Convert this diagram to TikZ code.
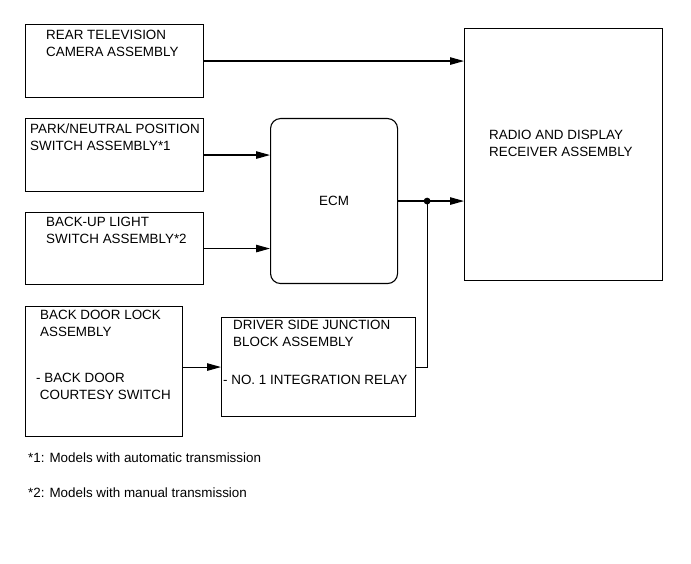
\documentclass[tikz,border=0pt]{standalone}
\usepackage{fontspec}
\setmainfont{Liberation Sans}
\usepackage{tikz}
\usetikzlibrary{arrows.meta, positioning}

\begin{document}
\begin{tikzpicture}[
        x=1pt, y=-1pt,
        unit/.style={rectangle, draw=black, line width=1.1pt, anchor=north west, inner sep=0pt},
        ecmbox/.style={unit, rounded corners=10pt},
        txt/.style={inner sep=0pt, align=left, font=\fontsize{13.4}{17}\selectfont},
        arrow/.style={-{Triangle[length=14pt, width=7.5pt]}, line width=1.1pt}
    ]
        \useasboundingbox (0,0) rectangle (691,564);

        \node[unit, minimum width=178pt, minimum height=73pt] (camera) at (25,24) {};
        \node[unit, minimum width=178pt, minimum height=73pt] (pnp) at (25,118) {};
        \node[unit, minimum width=178pt, minimum height=72pt] (backup) at (25,212) {};
        \node[unit, minimum width=157pt, minimum height=130pt] (backdoor) at (25,306) {};
        \node[ecmbox, minimum width=127pt, minimum height=165pt] (ecm) at (270,118) {};
        \node[unit, minimum width=194pt, minimum height=99pt] (dsjb) at (221,317) {};
        \node[unit, minimum width=198pt, minimum height=252pt] (radio) at (464,28) {};

        \node[txt, below right=6pt and 21pt of camera.north west] (cameratxt) {REAR TELEVISION\\CAMERA ASSEMBLY};
        \node[txt, below right=6pt and 5pt of pnp.north west] (pnptxt) {PARK/NEUTRAL POSITION\\SWITCH ASSEMBLY*1};
        \node[txt, below right=5pt and 21pt of backup.north west] (backuptxt) {BACK-UP LIGHT\\SWITCH ASSEMBLY*2};
        \node[txt, below right=4pt and 15pt of backdoor.north west] (backdoortxt) {BACK DOOR LOCK\\ASSEMBLY};
        \node[txt, below right=67pt and 11pt of backdoor.north west] (courtesytxt) {- BACK DOOR\\\ COURTESY SWITCH};
        \node[txt] (ecmtxt) at (ecm.center) {ECM};
        \node[txt, below right=3pt and 12pt of dsjb.north west] (dsjbtxt) {DRIVER SIDE JUNCTION\\BLOCK ASSEMBLY};
        \node[txt, below right=58pt and 2pt of dsjb.north west] (relaytxt) {- NO. 1 INTEGRATION RELAY};
        \node[txt, below right=102pt and 25pt of radio.north west] (radiotxt) {RADIO AND DISPLAY\\RECEIVER ASSEMBLY};

        % footnotes
        \node[txt, anchor=north west] (note1) at (28,453) {*1: Models with automatic transmission};
        \node[txt, anchor=north west] (note2) at (28,488) {*2: Models with manual transmission};

        % connections
        \coordinate[right=29pt of ecm.east] (junction);
        \draw[arrow] (camera.east) -- (camera.east -| radio.west);
        \draw[arrow] (pnp.east) -- (pnp.east -| ecm.west);
        \draw[arrow] (backup.east) -- (backup.east -| ecm.west);
        \draw[arrow] (dsjb.west -| backdoor.east) -- (dsjb.west);
        \draw[arrow] (ecm.east) -- (ecm.east -| radio.west);
        \draw[line width=1.1pt] (dsjb.east) -| (junction);
        \fill (junction) circle (3.4pt);
    \end{tikzpicture}
\end{document}
